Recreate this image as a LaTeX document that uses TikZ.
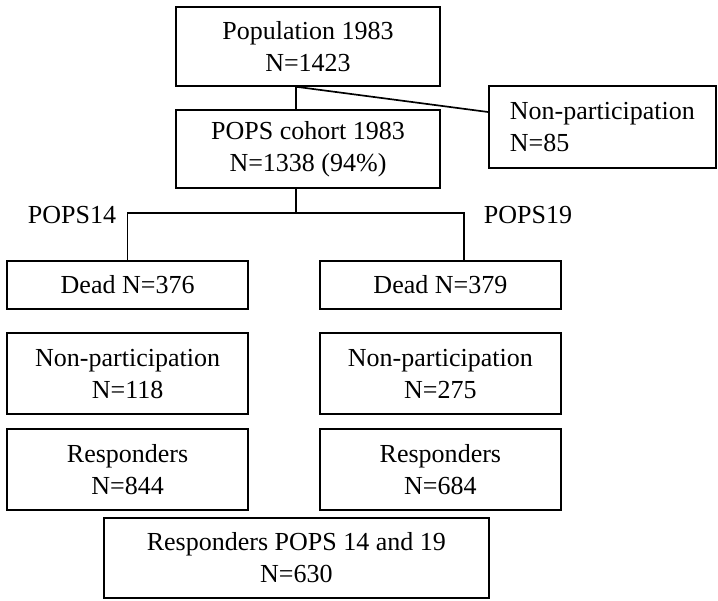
\documentclass[tikz,border=0pt]{standalone}
\usepackage{fontspec}
\setmainfont{Liberation Serif}
\usetikzlibrary{positioning,calc}

\begin{document}
\begin{tikzpicture}[
  box/.style={draw, line width=1.2pt, align=center, inner sep=0pt, font=\fontsize{18.5}{22.8}\selectfont},
  lbl/.style={font=\fontsize{18.5}{22.8}\selectfont},
  link/.style={line width=1.2pt}]
  \useasboundingbox (0,0) rectangle (17.95,15);

  % Cohort recruitment
  \node[box, minimum width=6.6cm, minimum height=1.975cm] (pop) at (7.7, 13.84) {Population 1983\\N=1423};
  \node[box, minimum width=6.6cm, minimum height=1.95cm] (cohort) at (7.7, 11.275) {POPS cohort 1983\\N=1338 (94\%)};
  \node[box, minimum width=5.675cm, minimum height=2.05cm, align=left] (np0) at (15.06, 11.825) {Non-participation\\N=85};
  \coordinate (split) at (7.4, 9.675);

  \draw[link] (split |- pop.south) -- (split |- cohort.north);
  \draw[link] (split |- pop.south) -- ([yshift=0.375cm]np0.west);

  % Follow-up at 14 and 19
  \node[box, minimum width=6.025cm, minimum height=1.2cm] (dead14) at (3.19, 7.875) {Dead N=376};
  \node[box, minimum width=6.025cm, minimum height=1.2cm] (dead19) at (11.01, 7.875) {Dead N=379};
  \node[box, minimum width=6.025cm, minimum height=2.025cm] (np14) at (3.19, 5.66) {Non-participation\\N=118};
  \node[box, minimum width=6.025cm, minimum height=2.025cm] (np19) at (11.01, 5.66) {Non-participation\\N=275};
  \node[box, minimum width=6.025cm, minimum height=2.025cm] (resp14) at (3.19, 3.26) {Responders\\N=844};
  \node[box, minimum width=6.025cm, minimum height=2.025cm] (resp19) at (11.01, 3.26) {Responders\\N=684};
  \node[box, minimum width=9.625cm, minimum height=2cm] (both) at (7.41, 1.05) {Responders POPS 14 and 19\\N=630};

  \node[lbl] (pops14) at (1.8, 9.625) {POPS14};
  \node[lbl] (pops19) at (13.2, 9.625) {POPS19};

  \draw[link] (split |- cohort.south) -- (split);
  \draw[link] (dead14.north) |- (split) -| ([xshift=0.59cm]dead19.north);
\end{tikzpicture}
\end{document}
